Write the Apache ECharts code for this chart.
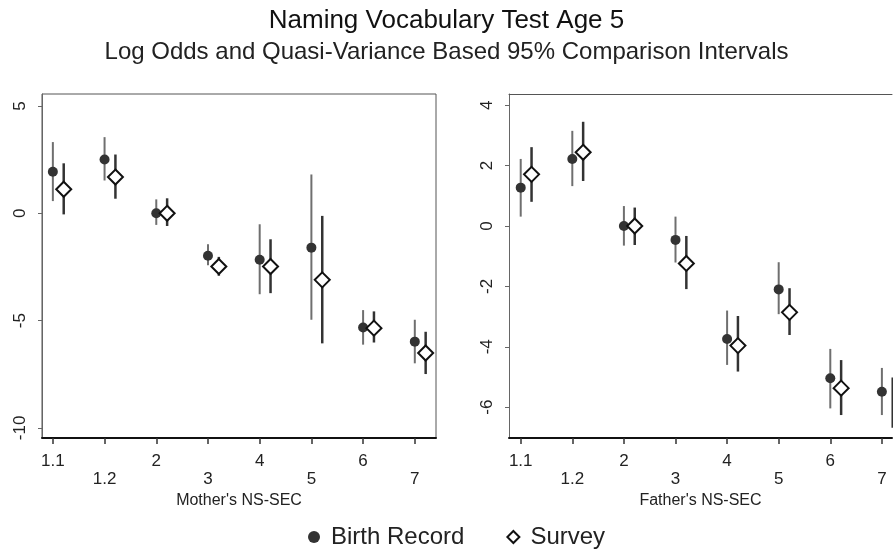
<!DOCTYPE html>
<html>
<head>
<meta charset="utf-8">
<script src="https://cdn.jsdelivr.net/npm/echarts@6/dist/echarts.min.js"></script>
<style>
  html, body { margin: 0; padding: 0; background: #fff; }
  #chart { width: 893px; height: 557px; }
</style>
</head>
<body>
<div id="chart"></div>
<script>
// NS-SEC categories (x axis)
const xLabels = ['1.1', '1.2', '2', '3', '4', '5', '6', '7'];
const motherTicks = [-10, -5, 0, 5];
const fatherTicks = [-6, -4, -2, 0, 2, 4];

// Mother's NS-SEC : log odds and interval ends
const motherBirth   = [1.94, 2.51, 0, -1.98, -2.16, -1.60, -5.32, -5.98];
const motherBirthLo = [0.57, 1.53, -0.54, -2.42, -3.77, -4.96, -6.12, -6.99];
const motherBirthHi = [3.32, 3.55, 0.65, -1.44, -0.51, 1.81, -4.51, -4.96];
const motherSurvey   = [1.12, 1.69, 0, -2.48, -2.48, -3.10, -5.35, -6.51];
const motherSurveyLo = [-0.05, 0.68, -0.59, -2.91, -3.72, -6.06, -6.02, -7.49];
const motherSurveyHi = [2.33, 2.74, 0.70, -2.03, -1.21, -0.12, -4.57, -5.52];

// Father's NS-SEC
const fatherBirth   = [1.27, 2.22, 0, -0.46, -3.74, -2.10, -5.04, -5.49];
const fatherBirthLo = [0.31, 1.32, -0.65, -1.21, -4.60, -2.92, -6.04, -6.26];
const fatherBirthHi = [2.22, 3.15, 0.66, 0.31, -2.80, -1.20, -4.07, -4.70];
const fatherSurvey   = [1.71, 2.44, 0, -1.24, -3.96, -2.86, -5.37, -5.85];
const fatherSurveyLo = [0.80, 1.49, -0.63, -2.09, -4.82, -3.61, -6.26, -6.68];
const fatherSurveyHi = [2.61, 3.45, 0.61, -0.33, -2.98, -2.06, -4.44, -5.02];

const FONT = 'Liberation Sans, Arial, sans-serif';
const SHIFT = 0.21; // survey points drawn a bit to the right

function pts(vals, off){
  return vals.map((v, i) => [i + 1 + off, v]);
}
function bars(lo, hi, off){
  return lo.map((v, i) => [i + 1 + off, v, hi[i]]);
}
function barSeries(idx, data, color, width){
  return {
    type: 'custom',
    xAxisIndex: idx, yAxisIndex: idx,
    z: 1,
    silent: true,
    data: data,
    renderItem: function(params, api){
      const a = api.coord([api.value(0), api.value(1)]);
      const b = api.coord([api.value(0), api.value(2)]);
      return {
        type: 'line',
        shape: { x1: a[0], y1: a[1], x2: b[0], y2: b[1] },
        style: { stroke: color, lineWidth: width }
      };
    }
  };
}
function xAxis(idx, name, min, max){
  return {
    type: 'value', gridIndex: idx, min: min, max: max,
    splitLine: { show: false },
    axisLine: { show: true, onZero: false, lineStyle: { color: '#111', width: 2 } },
    axisTick: { show: true, length: 6, customValues: [1, 2, 3, 4, 5, 6, 7, 8], lineStyle: { color: '#333', width: 1.5 } },
    axisLabel: {
      customValues: [1, 2, 3, 4, 5, 6, 7, 8],
      margin: 15,
      formatter: function(v){
        const i = Math.round(v) - 1;
        return (i % 2 ? '{lo|' : '{hi|') + xLabels[i] + '}';
      },
      rich: {
        hi: { fontSize: 17, color: '#222', fontFamily: FONT },
        lo: { fontSize: 17, color: '#222', fontFamily: FONT, padding: [18, 0, 0, 0] }
      }
    },
    name: name, nameLocation: 'middle', nameGap: 41,
    nameTextStyle: { fontSize: 16, color: '#222', fontFamily: FONT }
  };
}
function yAxis(idx, min, max, ticks){
  return {
    type: 'value', gridIndex: idx, min: min, max: max,
    splitLine: { show: false },
    axisLine: { show: true, onZero: false, lineStyle: { color: '#666', width: 1 } },
    axisTick: { show: true, length: 4, customValues: ticks, lineStyle: { color: '#666' } },
    axisLabel: { customValues: ticks, rotate: 90, margin: 13, fontSize: 17, color: '#222', fontFamily: FONT }
  };
}

const chart = echarts.init(document.getElementById('chart'));
const option = {
  animation: false,
  backgroundColor: '#fff',
  title: [
    { text: 'Naming Vocabulary Test Age 5', left: 'center', top: 3,
      textStyle: { fontSize: 26, fontWeight: 'normal', color: '#111', fontFamily: FONT } },
    { text: 'Log Odds and Quasi-Variance Based 95% Comparison Intervals', left: 'center', top: 35,
      textStyle: { fontSize: 24, fontWeight: 'normal', color: '#222', fontFamily: FONT } }
  ],
  legend: {
    bottom: 3, left: 303,
    itemWidth: 12, itemHeight: 12, itemGap: 42,
    data: ['Birth Record', 'Survey'],
    textStyle: { fontSize: 24, color: '#222', fontFamily: FONT, padding: [0, 0, 0, 6] }
  },
  grid: [
    { left: 42, top: 94, width: 394, bottom: 119, show: true, borderColor: '#555', borderWidth: 1, containLabel: false },
    // right panel runs off the canvas edge in the reference
    { left: 509, top: 94, right: 1, bottom: 119, show: false, containLabel: false }
  ],
  xAxis: [
    xAxis(0, "Mother's NS-SEC", 0.79, 8.41),
    xAxis(1, "Father's NS-SEC", 0.773, 8.196),
    { type: 'value', gridIndex: 1, position: 'top', min: 0, max: 1,
      splitLine: { show: false }, axisTick: { show: false }, axisLabel: { show: false },
      axisLine: { show: true, onZero: false, lineStyle: { color: '#555', width: 1 } } }
  ],
  yAxis: [yAxis(0, -10.47, 5.56, motherTicks), yAxis(1, -7.02, 4.37, fatherTicks)],
  series: [
    barSeries(0, bars(motherBirthLo, motherBirthHi, 0), '#6f6f6f', 2),
    barSeries(0, bars(motherSurveyLo, motherSurveyHi, SHIFT), '#333', 2.5),
    barSeries(1, bars(fatherBirthLo, fatherBirthHi, 0), '#6f6f6f', 2),
    barSeries(1, bars(fatherSurveyLo, fatherSurveyHi, SHIFT), '#333', 2.5),
    { name: 'Birth Record', type: 'scatter', xAxisIndex: 0, yAxisIndex: 0, z: 3,
      symbol: 'circle', symbolSize: 10, itemStyle: { color: '#333', opacity: 1 },
      data: pts(motherBirth, 0) },
    { name: 'Survey', type: 'scatter', xAxisIndex: 0, yAxisIndex: 0, z: 3,
      symbol: 'diamond', symbolSize: 15, itemStyle: { color: '#fff', borderColor: '#111', borderWidth: 2, opacity: 1 },
      data: pts(motherSurvey, SHIFT) },
    { name: 'Birth Record', type: 'scatter', xAxisIndex: 1, yAxisIndex: 1, z: 3,
      symbol: 'circle', symbolSize: 10, itemStyle: { color: '#333', opacity: 1 },
      data: pts(fatherBirth, 0) },
    { name: 'Survey', type: 'scatter', xAxisIndex: 1, yAxisIndex: 1, z: 3,
      symbol: 'diamond', symbolSize: 15, itemStyle: { color: '#fff', borderColor: '#111', borderWidth: 2, opacity: 1 },
      data: pts(fatherSurvey, SHIFT) }
  ]
};
chart.setOption(option);
</script>
</body>
</html>
